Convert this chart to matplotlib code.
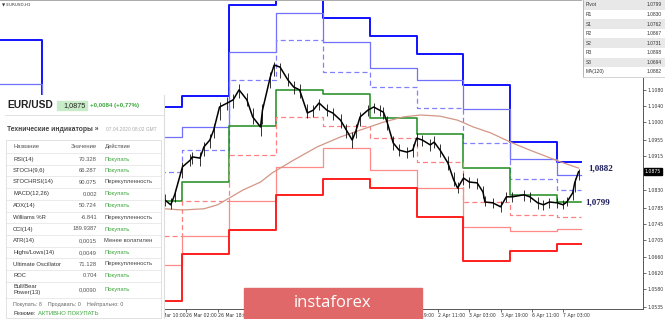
import numpy as np
import matplotlib.pyplot as plt
from matplotlib.patches import Rectangle

# ---- chart data (bar index = trading hours from 23 Mar 00:00) ----------------
day_edges = [-24, 0, 24, 48, 72, 96, 120, 144, 168, 192, 216, 240, 264, 276]
r3 = [1.1205, 1.1010, 1.1000, 1.1037, 1.1065, 1.1292, 1.1396, 1.1260, 1.1215, 1.1169, 1.1093, 1.0949, 1.0898]
r2 = [1.1094, 1.0950, 1.0930, 1.0962, 1.0987, 1.1175, 1.1272, 1.1200, 1.1135, 1.1104, 1.1031, 1.0907, 1.0867]
r1 = [1.0990, 1.0870, 1.0860, 1.0874, 1.0929, 1.1105, 1.1205, 1.1125, 1.1087, 1.1034, 1.0946, 1.0857, 1.0830]
pv = [1.0870, 1.0790, 1.0780, 1.0801, 1.0849, 1.0989, 1.1080, 1.1070, 1.1009, 1.0969, 1.0884, 1.0817, 1.0799]
s1 = [1.0760, 1.0710, 1.0700, 1.0714, 1.0801, 1.0917, 1.1012, 1.0989, 1.0959, 1.0899, 1.0799, 1.0767, 1.0762]
s2 = [1.0650, 1.0630, 1.0620, 1.0640, 1.0714, 1.0801, 1.0887, 1.0934, 1.0879, 1.0834, 1.0737, 1.0727, 1.0731]
s3 = [1.0540, 1.0550, 1.0540, 1.0552, 1.0669, 1.0729, 1.0817, 1.0856, 1.0834, 1.0762, 1.0652, 1.0677, 1.0694]

price_bar = [63, 66, 68, 72, 76, 77, 81, 83, 86, 88, 91, 95, 98, 101, 105, 108, 112, 113, 117, 119,
             122, 126, 129, 132, 136, 139, 142, 146, 149, 153, 156, 159, 161, 163, 167, 170, 173, 175,
             177, 180, 183, 187, 190, 192, 195, 199, 201, 204, 208, 211, 213, 216, 219, 223, 226, 227,
             231, 235, 238, 241, 247, 250, 254, 257, 260, 264, 267, 269, 272, 273, 275]
price_close = [1.0804, 1.0792, 1.0817, 1.0887, 1.0904, 1.0912, 1.0909, 1.0937, 1.0954, 1.0979, 1.1037,
               1.1047, 1.1055, 1.1080, 1.1055, 1.1012, 1.0987, 1.1029, 1.1112, 1.1142, 1.1137, 1.1105,
               1.1087, 1.1080, 1.1022, 1.1029, 1.1047, 1.1029, 1.1022, 1.1004, 1.0979, 1.0954, 1.0979,
               1.1012, 1.1029, 1.1037, 1.1029, 1.1024, 1.0997, 1.0947, 1.0929, 1.0924, 1.0929, 1.0959,
               1.0954, 1.0942, 1.0949, 1.0929, 1.0897, 1.0854, 1.0834, 1.0859, 1.0849, 1.0847, 1.0824,
               1.0799, 1.0797, 1.0787, 1.0812, 1.0812, 1.0817, 1.0812, 1.0797, 1.0792, 1.0799, 1.0797,
               1.0792, 1.0799, 1.0822, 1.0847, 1.0875]
price_high = [1.0818, 1.0810, 1.0830, 1.0900, 1.0918, 1.0925, 1.0925, 1.0950, 1.0970, 1.0995, 1.1050,
              1.1062, 1.1070, 1.1095, 1.1072, 1.1035, 1.1005, 1.1045, 1.1125, 1.1150, 1.1147, 1.1122,
              1.1102, 1.1095, 1.1045, 1.1042, 1.1058, 1.1045, 1.1035, 1.1020, 1.0995, 1.0975, 1.0995,
              1.1025, 1.1042, 1.1048, 1.1042, 1.1036, 1.1015, 1.0965, 1.0945, 1.0938, 1.0945, 1.0972,
              1.0968, 1.0958, 1.0965, 1.0945, 1.0915, 1.0875, 1.0850, 1.0872, 1.0862, 1.0860, 1.0840,
              1.0815, 1.0810, 1.0802, 1.0825, 1.0825, 1.0830, 1.0825, 1.0812, 1.0805, 1.0810, 1.0808,
              1.0805, 1.0812, 1.0835, 1.0860, 1.0882]
price_low = [1.0790, 1.0782, 1.0800, 1.0860, 1.0888, 1.0895, 1.0890, 1.0915, 1.0935, 1.0960, 1.1005,
             1.1030, 1.1035, 1.1060, 1.1040, 1.0995, 1.0965, 1.0995, 1.1085, 1.1115, 1.1110, 1.1090,
             1.1070, 1.1060, 1.1010, 1.1012, 1.1030, 1.1015, 1.1005, 1.0985, 1.0960, 1.0935, 1.0960,
             1.0990, 1.1015, 1.1022, 1.1015, 1.1008, 1.0980, 1.0930, 1.0915, 1.0910, 1.0912, 1.0940,
             1.0940, 1.0928, 1.0935, 1.0912, 1.0880, 1.0840, 1.0822, 1.0842, 1.0835, 1.0832, 1.0810,
             1.0788, 1.0785, 1.0775, 1.0798, 1.0800, 1.0802, 1.0798, 1.0782, 1.0780, 1.0785, 1.0785,
             1.0782, 1.0788, 1.0805, 1.0825, 1.0855]

ma_bar = [63, 72, 83, 90, 96, 103, 112, 118, 129, 141, 153, 163, 175, 185, 194, 204, 213, 221, 230,
          240, 250, 259, 266, 275]
ma_val = [1.0782, 1.0779, 1.0782, 1.0792, 1.0809, 1.0829, 1.0849, 1.0872, 1.0904, 1.0937, 1.0962,
          1.0979, 1.0999, 1.1012, 1.1017, 1.1014, 1.1004, 1.0987, 1.0972, 1.0949, 1.0929, 1.0912,
          1.0899, 1.0884]

ytick_vals = [1.1080, 1.1040, 1.1000, 1.0955, 1.0915, 1.0830, 1.0785, 1.0745, 1.0705, 1.0660,
              1.0620, 1.0580, 1.0535]
xtick_bars = [58, 74, 90, 106, 122, 138, 154, 170, 187, 203, 219, 235, 251, 267]
xtick_labels = ['25 Mar 10:00', '26 Mar 02:00', '26 Mar 18:00', '27 Mar 10:00', '30 Mar 02:00',
                '30 Mar 18:00', '31 Mar 10:00', '1 Apr 02:00', '1 Apr 19:00', '2 Apr 11:00',
                '3 Apr 03:00', '3 Apr 19:00', '6 Apr 11:00', '7 Apr 03:00']
last_price = 1.0875

# ---- indicator panel data -----------------------------------------------------
ind_names = ['RSI(14)', 'STOCH(9,6)', 'STOCHRSI(14)', 'MACD(12,26)', 'ADX(14)', 'Williams %R',
             'CCI(14)', 'ATR(14)', 'Highs/Lows(14)', 'Ultimate Oscillator', 'ROC', 'Bull/Bear\nPower(13)']
ind_values = ['70.328', '66.287', '90.075', '0.002', '50.724', '-6.841', '189.9387', '0,0015',
              '0,0049', '71.128', '0.704', '0,0090']
ind_actions = ['Покупать', 'Покупать', 'Перекупленность', 'Покупать', 'Покупать', 'Перекупленность',
               'Покупать', 'Менее волатилен', 'Покупать', 'Перекупленность', 'Покупать', 'Покупать']

piv_names = ['Pivot', 'R1', 'S1', 'R2', 'S2', 'R3', 'S3', 'MA(120)']
piv_values = ['1.0799', '1.0830', '1.0762', '1.0867', '1.0731', '1.0898', '1.0694', '1.0882']

W, H = 665, 319
fig = plt.figure(figsize=(W / 100, H / 100), dpi=100)

# ==============================================================================
# main chart
# ==============================================================================
ax = fig.add_axes([0, 10 / H, 643 / W, 309 / H])
ax.set_xlim(-21.5, 308.0)
ax.set_ylim(1.0531, 1.1305)

dash = (4, 2.5)
styles = [(r3, '#1010ff', 1.4, None), (r2, '#7070ff', 0.9, None), (r1, '#8080ff', 0.9, dash),
          (pv, '#1e8c1e', 1.1, None), (s1, '#ff8080', 0.9, dash), (s2, '#ff8a8a', 0.9, None),
          (s3, '#ff1e1e', 1.4, None)]
for lev, col, lw, ds in styles:
    ln, = ax.step(day_edges, lev + [lev[-1]], where='post', color=col, lw=lw)
    if ds:
        ln.set_dashes(ds)

ax.plot(ma_bar, ma_val, color='#d39686', lw=0.9)
# candles: wicks + close path
ax.vlines(price_bar, price_low, price_high, color='#111111', lw=0.6)
ax.plot(price_bar, price_close, color='black', lw=1.1)

ax.text(280, float(piv_values[7]), '1,0882', color='#1c1c5c', fontsize=6.5, fontweight='bold',
        family='Liberation Serif', va='center', ha='left')
ax.text(278.5, float(piv_values[0]), '1,0799', color='#1c1c5c', fontsize=6.5, fontweight='bold',
        family='Liberation Serif', va='center', ha='left')

ax.spines['left'].set_visible(False)
ax.spines['right'].set_color('#555555')
ax.spines['bottom'].set_color('#555555')
ax.spines['top'].set_color('#aaaaaa')
for s in ['right', 'bottom', 'top']:
    ax.spines[s].set_linewidth(0.7)

ax.yaxis.tick_right()
ax.set_yticks(ytick_vals)
ax.set_yticklabels([f'{v:.4f}' for v in ytick_vals])
ax.tick_params(axis='y', labelsize=3.3, length=2, width=0.5, pad=1.5, colors='#333333')
ax.set_xticks(xtick_bars)
ax.set_xticklabels(xtick_labels, ha='left')
ax.tick_params(axis='x', labelsize=3.3, length=2, width=0.5, pad=1.0, colors='#333333')

ax.text(1.003, last_price, f'{last_price:.4f}', transform=ax.get_yaxis_transform(), fontsize=3.3,
        color='white', va='center', ha='left',
        bbox=dict(boxstyle='square,pad=0.25', fc='black', ec='black'))

fig.text(2 / W, 1 - 5 / H, '▼ EURUSD,H1', fontsize=3, color='#333333', va='center')

# ==============================================================================
# indicator panel (left)
# ==============================================================================
axp = fig.add_axes([0, 0, 164 / W, 224 / H])
axp.set_xlim(0, 164)
axp.set_ylim(319, 95)
axp.set_xticks([])
axp.set_yticks([])
for s in axp.spines.values():
    s.set_visible(False)
axp.spines['right'].set_visible(True)
axp.spines['right'].set_color('#dddddd')

sans = 'Liberation Sans'
axp.text(7, 105, 'EUR/USD', fontsize=7.4, fontweight='bold', family=sans, color='#222222', va='center')
axp.add_patch(Rectangle((57, 100.5), 30, 9.5, color='#c8ecc8'))
axp.text(86, 105.3, '1,0875', fontsize=5.2, family=sans, color='#222222', va='center', ha='right')
axp.text(90, 105.3, '+0,0084 (+0,77%)', fontsize=4.4, fontweight='bold', family=sans,
         color='#3aa53a', va='center')
axp.plot([5, 164], [115, 115], color='#dddddd', lw=0.6)

axp.text(7, 129.5, 'Технические индикаторы »', fontsize=4.9, fontweight='bold', family=sans,
         color='#444444', va='center')
axp.text(106, 129.5, '07.04.2020 08:02 GMT', fontsize=3.5, family=sans, color='#aaaaaa', va='center')

# table frame
axp.add_patch(Rectangle((6, 140), 155, 178, fill=False, ec='#dddddd', lw=0.6))
row_y = [159.3, 170.7, 182.0, 194.0, 205.7, 217.3, 229.0, 240.7, 252.3, 264.0, 275.7, 289.3]
fs = 4.2
axp.text(13, 146.5, 'Название', fontsize=fs, family=sans, color='#555555', va='center')
axp.text(97, 146.5, 'Значение', fontsize=fs, family=sans, color='#555555', va='center', ha='right')
axp.text(104.5, 146.5, 'Действие', fontsize=fs, family=sans, color='#555555', va='center')
sep = [153.3, 165.0, 176.3, 188.0, 200.0, 211.5, 223.2, 234.8, 246.5, 258.2, 269.8, 281.5, 297.5]
for y in sep:
    axp.plot([6, 161], [y, y], color='#e2e2e2', lw=0.5)
for name, val, act, y in zip(ind_names, ind_values, ind_actions, row_y):
    axp.text(13, y, name, fontsize=fs, family=sans, color='#333333', va='center', linespacing=1.3)
    axp.text(97, y, val, fontsize=fs, family=sans, color='#555555', va='center', ha='right')
    green = act == 'Покупать'
    axp.text(104.5, y, act, fontsize=fs, family=sans, color='#3aa53a' if green else '#444444',
             va='center')
axp.text(13, 304, 'Покупать: 8    Продавать: 0    Нейтрально: 0', fontsize=3.9, family=sans,
         color='#666666', va='center')
axp.text(13, 313.3, 'Резюме:', fontsize=4.2, family=sans, color='#333333', va='center')
axp.text(37.5, 313.3, 'АКТИВНО ПОКУПАТЬ', fontsize=4.2, family=sans, color='#3aa53a', va='center')

# ==============================================================================
# pivot table (top right)
# ==============================================================================
axt = fig.add_axes([582 / W, 1 - 78 / H, 83 / W, 78 / H])
axt.set_xlim(582, 665)
axt.set_ylim(78, 0)
axt.set_xticks([])
axt.set_yticks([])
for s in axt.spines.values():
    s.set_visible(False)
axt.plot([582.5, 582.5], [0, 77.5], color='#aaaaaa', lw=0.6)
axt.plot([582.5, 665], [77.5, 77.5], color='#cccccc', lw=0.6)
for i, (nm, vl) in enumerate(zip(piv_names, piv_values)):
    y0 = i * 9.6
    if i % 2 == 0:
        axt.add_patch(Rectangle((583, y0), 82, 9.6, color='#e8e8e8', lw=0))
    axt.text(586, y0 + 4.8, nm, fontsize=3.5, family=sans, color='#333333', va='center')
    axt.text(662, y0 + 4.8, vl, fontsize=3.5, family=sans, color='#333333', va='center', ha='right')

# ==============================================================================
# logo
# ==============================================================================
fig.patches.append(Rectangle((244 / W, 0), 178 / W, 31 / H, transform=fig.transFigure,
                             color='#e06868', zorder=5))
fig.text(333 / W, 1 - 303 / H, 'instaforex', fontsize=12, color='white', family='Open Sans',
         ha='center', va='center', zorder=6)

fig.savefig('out.png', dpi=100)
